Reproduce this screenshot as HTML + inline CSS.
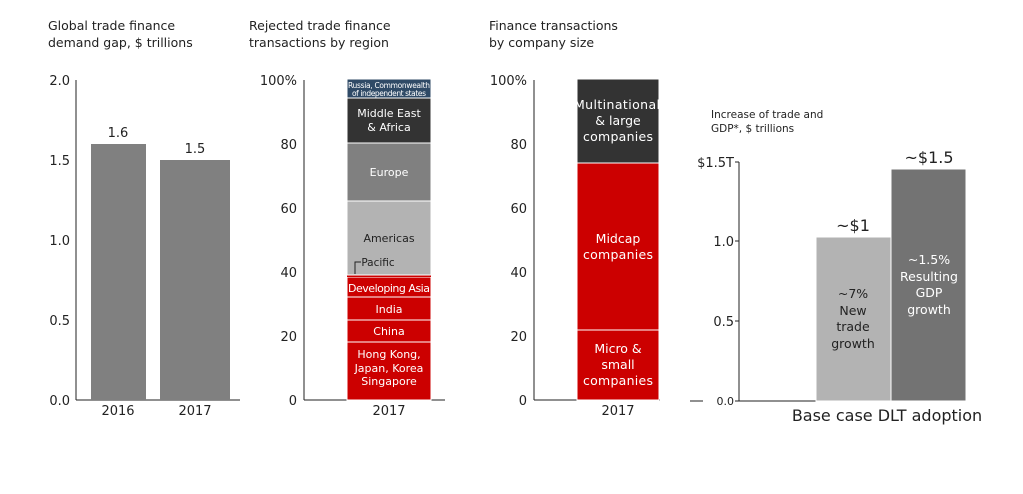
<!DOCTYPE html>
<html><head><style>
body{margin:0;background:#fff;}
svg{display:block;font-family:"DejaVu Sans","Liberation Sans",sans-serif;}
</style></head><body>
<svg width="1023" height="494" viewBox="0 0 1023 494">
<g font-size="12.5" fill="#222">
<text x="48" y="30">Global trade finance</text>
<text x="48" y="47">demand gap, $ trillions</text>
<text x="249" y="30">Rejected trade finance</text>
<text x="249" y="47">transactions by region</text>
<text x="489" y="30">Finance transactions</text>
<text x="489" y="47">by company size</text>
</g>
<g stroke="#222" stroke-width="1">
<line x1="76" y1="80" x2="76" y2="400"/><line x1="76" y1="400" x2="240" y2="400"/>
<line x1="304" y1="80" x2="304" y2="400"/><line x1="304" y1="400" x2="445" y2="400"/>
<line x1="534" y1="80" x2="534" y2="400"/><line x1="534" y1="400" x2="660" y2="400"/>
<line x1="739" y1="162" x2="739" y2="401"/><line x1="739" y1="401" x2="966" y2="401"/>
<line x1="690" y1="401" x2="703" y2="401"/>
<line x1="735" y1="162" x2="739" y2="162"/><line x1="735" y1="241" x2="739" y2="241"/><line x1="735" y1="321" x2="739" y2="321"/><line x1="735" y1="401" x2="739" y2="401"/>
</g>
<g font-size="13" fill="#222" text-anchor="end">
<text x="70" y="85">2.0</text><text x="70" y="165">1.5</text><text x="70" y="245">1.0</text><text x="70" y="325">0.5</text><text x="70" y="405">0.0</text>
<text x="297" y="85">100%</text><text x="297" y="149">80</text><text x="297" y="213">60</text><text x="297" y="277">40</text><text x="297" y="341">20</text><text x="297" y="405">0</text>
<text x="527" y="85">100%</text><text x="527" y="149">80</text><text x="527" y="213">60</text><text x="527" y="277">40</text><text x="527" y="341">20</text><text x="527" y="405">0</text>
<text x="734" y="167">$1.5T</text><text x="734" y="246">1.0</text><text x="734" y="326">0.5</text><text x="734" y="405" font-size="11">0.0</text>
</g>
<rect x="91" y="144" width="55" height="256" fill="#808080"/>
<rect x="160" y="160" width="70" height="240" fill="#808080"/>
<g font-size="13" fill="#222" text-anchor="middle">
<text x="118" y="137">1.6</text><text x="195" y="153">1.5</text>
<text x="118" y="415">2016</text><text x="195" y="415">2017</text>
<text x="389" y="415">2017</text><text x="618" y="415">2017</text>
</g>
<g stroke="#fff" stroke-width="1">
<rect x="347" y="342" width="84" height="58" fill="#cc0000"/>
<rect x="347" y="320" width="84" height="22" fill="#cc0000"/>
<rect x="347" y="297" width="84" height="23" fill="#cc0000"/>
<rect x="347" y="277" width="84" height="20" fill="#cc0000"/>
<rect x="347" y="275" width="84" height="2" fill="#cc0000" stroke="none"/>
<rect x="347" y="201" width="84" height="74" fill="#b3b3b3"/>
<rect x="347" y="143" width="84" height="58" fill="#808080"/>
<rect x="347" y="98" width="84" height="45" fill="#333333"/>
<rect x="347" y="79" width="84" height="19" fill="#2f4a66"/>
<rect x="577" y="330" width="82" height="70" fill="#cc0000"/>
<rect x="577" y="163" width="82" height="167" fill="#cc0000"/>
<rect x="577" y="79" width="82" height="84" fill="#333333"/>
<rect x="816" y="237" width="75" height="164" fill="#b3b3b3"/>
<rect x="891" y="169" width="75" height="232" fill="#737373"/>
</g>
<path d="M355 274 V262 H361" stroke="#222" fill="none"/>
<g font-size="11" fill="#fff" text-anchor="middle">
<text x="389" y="358">Hong Kong,</text><text x="389" y="372">Japan, Korea</text><text x="389" y="385">Singapore</text>
<text x="389" y="335">China</text><text x="389" y="313">India</text>
<text x="389" y="292" textLength="82">Developing Asia</text>
<text x="389" y="176">Europe</text>
<text x="389" y="117">Middle East</text><text x="389" y="131">&amp; Africa</text>
<text x="389" y="88" font-size="7.5" textLength="82">Russia, Commonwealth</text><text x="389" y="96" font-size="7.5" textLength="74">of independent states</text>
<text x="389" y="242" fill="#222">Americas</text>
<text x="378" y="266" fill="#222" font-size="10.5">Pacific</text>
<g font-size="12.5">
<text x="618" y="353">Micro &amp;</text><text x="618" y="369">small</text><text x="618" y="385" textLength="70">companies</text>
<text x="618" y="243">Midcap</text><text x="618" y="259" textLength="70">companies</text>
<text x="617" y="109" textLength="86">Multinational</text><text x="618" y="125">&amp; large</text><text x="618" y="141" textLength="70">companies</text>
</g>
<g font-size="12.5">
<text x="929" y="264">~1.5%</text><text x="929" y="281">Resulting</text><text x="929" y="297">GDP</text><text x="929" y="314">growth</text>
<text x="853" y="298" fill="#222">~7%</text><text x="853" y="315" fill="#222">New</text><text x="853" y="331" fill="#222">trade</text><text x="853" y="348" fill="#222">growth</text>
</g>
<text x="853" y="231" font-size="16" fill="#222">~$1</text>
<text x="929" y="163" font-size="16" fill="#222">~$1.5</text>
<text x="887" y="421" font-size="16" fill="#222">Base case DLT adoption</text>
</g>
<text x="711" y="118" font-size="10.5" fill="#222">Increase of trade and</text>
<text x="711" y="132" font-size="10.5" fill="#222">GDP*, $ trillions</text>
</svg>
</body></html>
